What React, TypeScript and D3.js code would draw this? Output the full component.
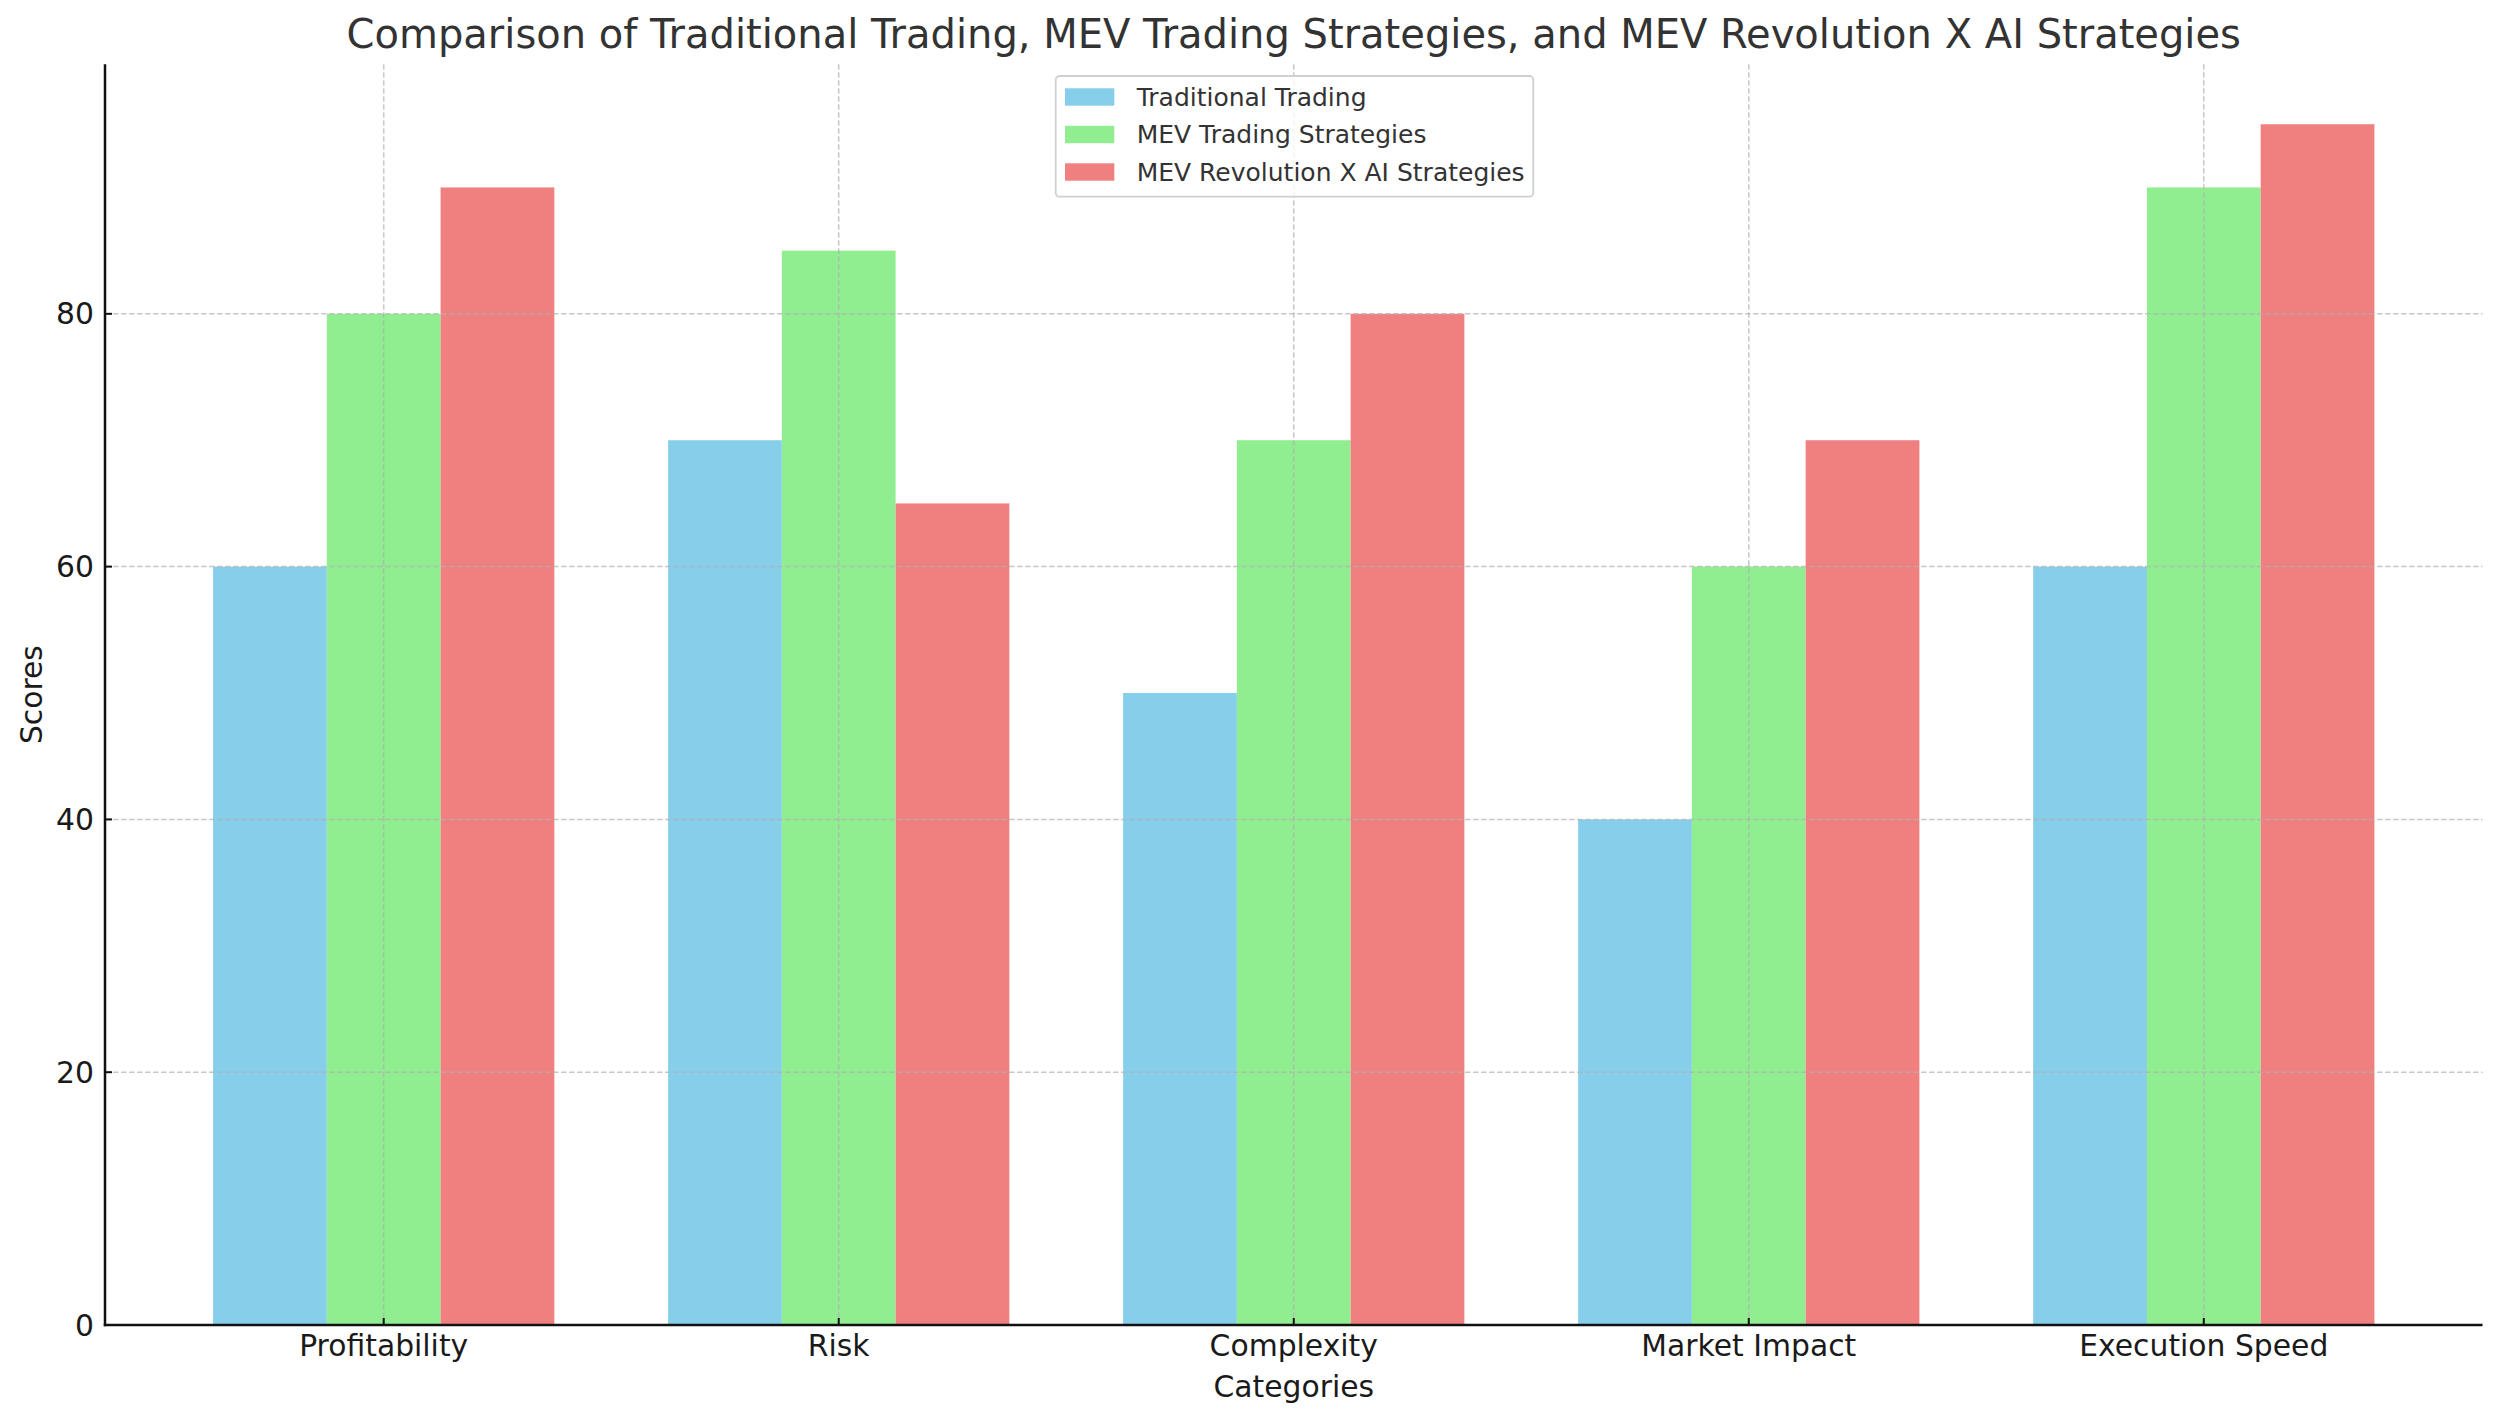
import * as d3 from 'd3'

const categories = ['Profitability', 'Risk', 'Complexity', 'Market Impact', 'Execution Speed']
const seriesNames = ['Traditional Trading', 'MEV Trading Strategies', 'MEV Revolution X AI Strategies']
const traditional = [60, 70, 50, 40, 60]
const mevTrading = [80, 85, 70, 60, 90]
const mevRevolution = [90, 65, 80, 70, 95]
const colors = ['#87CEEB', '#90EE90', '#F08080']
const yTicks = [0, 20, 40, 60, 80]

const W = 2500
const H = 1421
const left = 105
const right = 2482.5
const top = 64.2
const bottom = 1325
const font = 'DejaVu Sans'

export default function App() {
  const series = [traditional, mevTrading, mevRevolution]
  const barW = 0.25
  const lo = -barW * 1.5
  const hi = categories.length - 1 + barW * 1.5
  const pad = (hi - lo) * 0.05
  const x = d3.scaleLinear().domain([lo - pad, hi + pad]).range([left, right])
  const ymax = (d3.max(series.flat()) ?? 100) * 1.05
  const y = d3.scaleLinear().domain([0, ymax]).range([bottom, top])
  const bw = x(barW) - x(0)
  const cx = (left + right) / 2

  return (
    <svg width={W} height={H} viewBox={`0 0 ${W} ${H}`} style={{ display: 'block', background: '#fff' }}>
      <style>{`body{margin:0}`}</style>
      {/* bars */}
      {series.map((vals, si) =>
        vals.map((v, i) => (
          <rect
            key={`${si}-${i}`}
            x={x(i + (si - 1) * barW) - bw / 2}
            y={y(v)}
            width={bw}
            height={y(0) - y(v)}
            fill={colors[si]}
          />
        ))
      )}
      {/* grid */}
      <g stroke="#b0b0b0" strokeOpacity={0.7} strokeWidth={1.5} strokeDasharray="5.5,2.5">
        {yTicks.map((t) => (
          <line key={`gy${t}`} x1={left} x2={right} y1={y(t)} y2={y(t)} />
        ))}
        {categories.map((c, i) => (
          <line key={`gx${c}`} x1={x(i)} x2={x(i)} y1={top} y2={bottom} />
        ))}
      </g>
      {/* axes */}
      <g stroke="#111" strokeWidth={2.5}>
        <line x1={left} x2={left} y1={top} y2={bottom + 1.25} />
        <line x1={left - 1.25} x2={right} y1={bottom} y2={bottom} />
      </g>
      <g stroke="#111" strokeWidth={2}>
        {yTicks.map((t) => (
          <line key={`ty${t}`} x1={left} x2={left + 7} y1={y(t)} y2={y(t)} />
        ))}
        {categories.map((c, i) => (
          <line key={`tx${c}`} x1={x(i)} x2={x(i)} y1={bottom} y2={bottom - 7} />
        ))}
      </g>
      <g fontFamily={font} fontSize={29.8} fill="#1a1a1a">
        {yTicks.map((t) => (
          <text key={`ly${t}`} x={left - 11} y={y(t)} textAnchor="end" dominantBaseline="central">
            {t}
          </text>
        ))}
        {categories.map((c, i) => (
          <text key={`lx${c}`} x={x(i)} y={1356} textAnchor="middle">
            {c}
          </text>
        ))}
        <text x={cx} y={1397} textAnchor="middle">
          Categories
        </text>
        <text transform={`translate(31,${(top + bottom) / 2}) rotate(-90)`} textAnchor="middle" dominantBaseline="central">
          Scores
        </text>
      </g>
      <text x={cx} y={47.5} textAnchor="middle" fontFamily={font} fontSize={40} fill="#333">
        Comparison of Traditional Trading, MEV Trading Strategies, and MEV Revolution X AI Strategies
      </text>
      {/* legend */}
      <g fontFamily={font} fontSize={25} fill="#333">
        <rect x={1055.7} y={76} width={477.6} height={120.7} rx={4} fill="#fff" fillOpacity={0.8} stroke="#d0d0d0" strokeWidth={1.8} />
        {seriesNames.map((s, i) => (
          <g key={s} transform={`translate(0,${97 + i * 37.5})`}>
            <rect x={1065} y={-8.7} width={49.3} height={17.4} fill={colors[i]} />
            <text x={1136.7} y={0} dominantBaseline="central">
              {s}
            </text>
          </g>
        ))}
      </g>
    </svg>
  )
}
